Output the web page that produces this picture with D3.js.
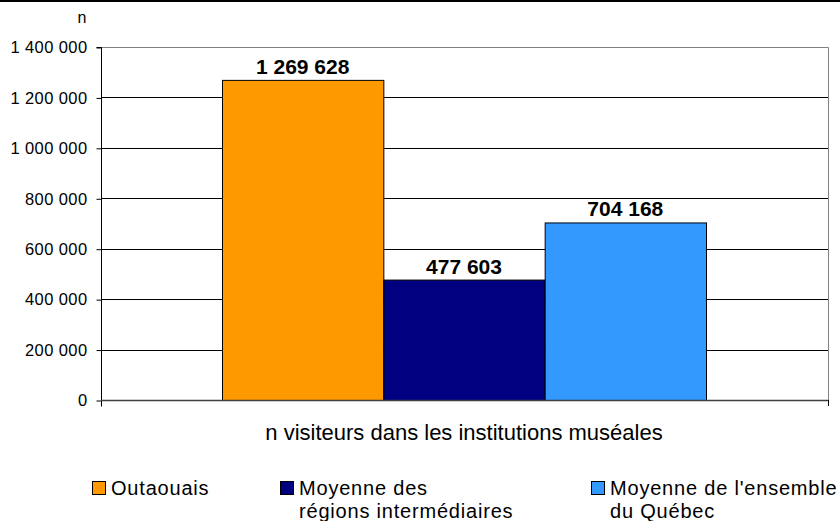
<!DOCTYPE html>
<html><head><meta charset="utf-8">
<script src="https://cdn.jsdelivr.net/npm/d3@7"></script>
<style>body{margin:0;background:#fff}svg{display:block;font-family:Arial,"Liberation Sans",sans-serif}</style>
</head><body>
<svg id="c" width="840" height="521"></svg>
<script>
const categories = ["Outaouais", "Moyenne des régions intermédiaires", "Moyenne de l'ensemble du Québec"];
const legendLines = [["Outaouais"], ["Moyenne des", "régions intermédiaires"], ["Moyenne de l'ensemble", "du Québec"]];
const values = [1269628, 477603, 704168];
const valueLabels = ["1 269 628", "477 603", "704 168"];
const colors = ["#FF9900", "#000080", "#3399FF"];
const yTicks = [0, 200000, 400000, 600000, 800000, 1000000, 1200000, 1400000];
const yTickLabels = ["0", "200 000", "400 000", "600 000", "800 000", "1 000 000", "1 200 000", "1 400 000"];
const xTitle = "n visiteurs dans les institutions muséales";

const FONT = "Arial, 'Liberation Sans', sans-serif";
const svg = d3.select("#c");
const L = 101, R = 828, T = 47, B = 400;
const y = d3.scaleLinear().domain([0, 1400000]).range([B, T]);
const x = d3.scaleBand().domain(categories).range([222, 706]).paddingInner(0).paddingOuter(0);

// top border line
svg.append("line").attr("x1", 0).attr("x2", 840).attr("y1", 1).attr("y2", 1).attr("stroke", "#000").attr("stroke-width", 2);

// gridlines
svg.append("g").selectAll("line").data(yTicks.slice(1, -1)).join("line")
  .attr("x1", L).attr("x2", R).attr("y1", d => Math.round(y(d)) + 0.5).attr("y2", d => Math.round(y(d)) + 0.5)
  .attr("stroke", "#000").attr("stroke-width", 1);
// plot border top/right gray
svg.append("path").attr("d", `M${L},${T + 0.5}H${R + 0.5}V${B}`).attr("fill", "none").attr("stroke", "#808080").attr("stroke-width", 1);

// bars
svg.append("g").selectAll("rect").data(values).join("rect")
  .attr("x", (d, i) => x(categories[i]) + 0.5).attr("y", d => y(d) + 0.5)
  .attr("width", x.bandwidth()).attr("height", d => B - y(d))
  .attr("fill", (d, i) => colors[i]).attr("stroke", "#000").attr("stroke-width", 1);

// y axis
const yAxis = d3.axisLeft(y).tickValues(yTicks).tickFormat((d, i) => yTickLabels[i]).tickSize(5).tickPadding(9);
const gy = svg.append("g").attr("transform", `translate(${L + 0.5},0.5)`).call(yAxis);
gy.attr("font-size", null).attr("font-family", null);
gy.select(".domain").attr("d", `M-5,${T}H0V${B + 6}`).attr("stroke", "#000");
gy.selectAll("text").attr("font-size", 16.5).attr("letter-spacing", 0.4).attr("font-family", FONT).attr("fill", "#000");
gy.selectAll(".tick line").attr("stroke", "#000");

// x axis baseline
svg.append("line").attr("x1", L).attr("x2", R + 1).attr("y1", B + 0.5).attr("y2", B + 0.5).attr("stroke", "#404040").attr("stroke-width", 1.5);
svg.append("line").attr("x1", R + 0.5).attr("x2", R + 0.5).attr("y1", B).attr("y2", B + 6).attr("stroke", "#000");

// "n" label
svg.append("text").attr("x", 82).attr("y", 23).attr("text-anchor", "middle").attr("font-size", 16).text("n");

// value labels
svg.append("g").selectAll("text").data(values).join("text")
  .attr("x", (d, i) => x(categories[i]) + x.bandwidth() / 2)
  .attr("y", d => y(d) - 6)
  .attr("text-anchor", "middle").attr("font-size", 21).attr("font-weight", "bold")
  .text((d, i) => valueLabels[i]);

// x title
svg.append("text").attr("x", 464).attr("y", 440).attr("text-anchor", "middle").attr("font-size", 22).text(xTitle);

// legend
const lx = [92, 280, 591];
const lg = svg.append("g").selectAll("g").data(categories).join("g")
  .attr("transform", (d, i) => `translate(${lx[i]},481)`);
lg.append("rect").attr("x", 0.5).attr("y", 0.5).attr("width", 13).attr("height", 13)
  .attr("fill", (d, i) => colors[i]).attr("stroke", "#000");
lg.each(function(d, i) {
  const t = d3.select(this).append("text").attr("x", 19).attr("y", 14).attr("font-size", 20).attr("letter-spacing", 0.8);
  legendLines[i].forEach((ln, j) => t.append("tspan").attr("x", 19).attr("dy", j === 0 ? 0 : 23).text(ln));
});
</script>
</body></html>
